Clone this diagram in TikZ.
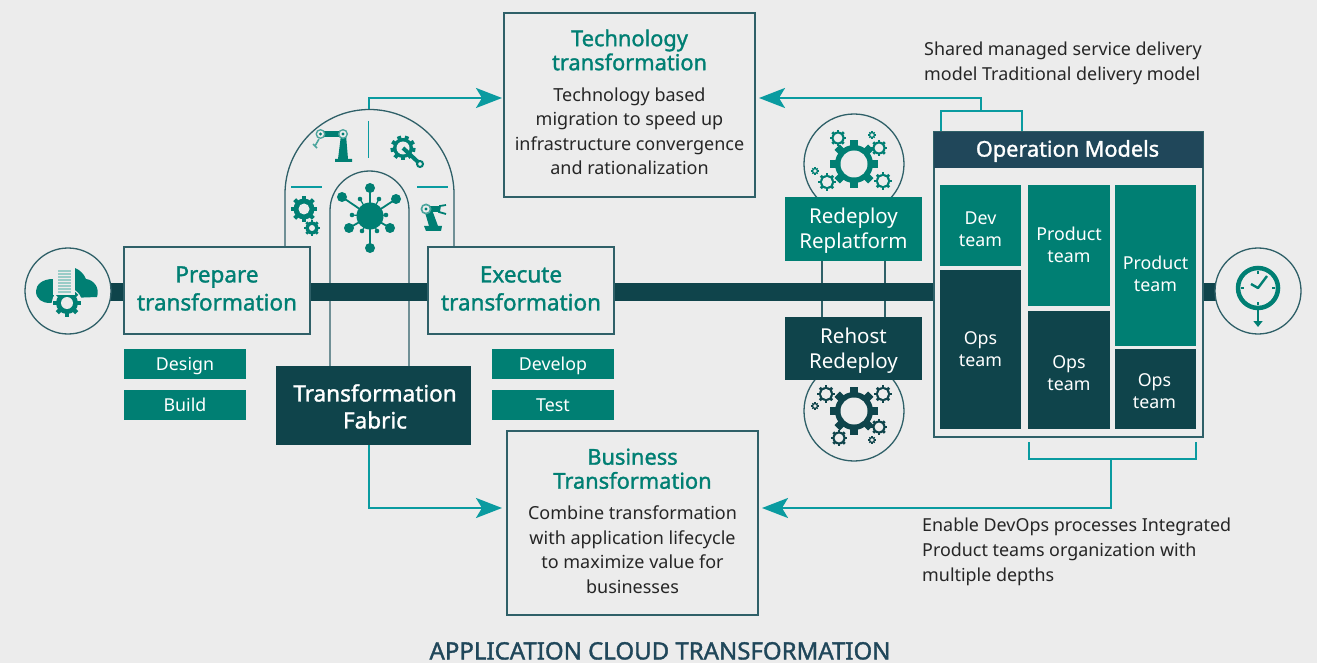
\documentclass[tikz,border=0pt]{standalone}
\usepackage{fontspec}
\setmainfont{Noto Sans}[BoldFont=Noto Sans, BoldFeatures={FakeBold=1.4}]
\usetikzlibrary{arrows.meta,positioning}
\definecolor{bg}{HTML}{ECECEC}
\definecolor{teal_t}{HTML}{007F73}
\definecolor{teal_l}{HTML}{0A9BA0}
\definecolor{dark_d}{HTML}{0F444B}
\definecolor{head_d}{HTML}{20475A}
\definecolor{line_d}{HTML}{2F6068}
\tikzset{
  x=1pt, y=-1pt,
  boxnode/.style = {align=center, inner sep=0pt, text centered},
  wh/.style 2 args = {minimum width=#1pt, minimum height=#2pt},
  box_w/.style = {boxnode, rectangle, fill=bg, draw=line_d, line width=1.2pt},
  box_t/.style = {boxnode, rectangle, fill=teal_t, text=white,
    font=\fontsize{17.8}{22}\selectfont},
  box_d/.style = {box_t, fill=dark_d},
  box_s/.style = {box_t, wh={122}{30}, text height=14pt, text depth=2pt},
  txt_p/.style = {boxnode, text=teal_t, font=\fontsize{22.5}{28}\selectfont\bfseries},
  txt_h/.style = {boxnode, text=teal_t, font=\fontsize{21.8}{24}\selectfont\bfseries},
  txt_b/.style = {boxnode, text=black!85, font=\fontsize{18}{24.5}\selectfont},
  txt_r/.style = {boxnode, text=white, font=\fontsize{20.5}{25}\selectfont},
  txt_f/.style = {boxnode, text=white, font=\fontsize{22.5}{27}\selectfont\bfseries},
  txt_c/.style = {boxnode, text=white, font=\fontsize{17.8}{22}\selectfont},
  txt_n/.style = {boxnode, anchor=west, align=left, text=black!85,
    font=\fontsize{17.9}{24.8}\selectfont},
  ring/.style = {circle, fill=bg, draw=line_d, line width=1.3pt, minimum size=#1pt, inner sep=0pt},
  arch/.style = {draw=line_d, line width=1.3pt},
  sep_l/.style = {draw=teal_l, line width=1.6pt},
  arrow_t/.style = {draw=teal_l, line width=2.4pt, -{Stealth[length=26pt,width=20pt,inset=6pt]}},
  bracket/.style = {draw=teal_l, line width=2.4pt}
}
% centre, body radius, hole radius, teeth, colour
\newcommand{\gearicon}[5]{%
  \begin{scope}[shift={(#1)}]
    \fill[#5] (0,0) circle (#2pt);
    \foreach \t in {1,...,#4}
      \fill[#5, rotate=\t*360/#4] (-0.2*#2,0) rectangle (0.2*#2,1.25*#2);
    \fill[bg] (0,0) circle (#3pt);
  \end{scope}}
% one big wheel, four small ones, two tiny ones
\newcommand{\wheelset}[8]{%
  \gearicon{#1}{19}{13.5}{8}{#2}
  \gearicon{#3}{6.5}{4.4}{8}{#2}
  \gearicon{#4}{6.5}{4.4}{8}{#2}
  \gearicon{#5}{7}{5}{8}{#2}
  \gearicon{#6}{7}{5}{8}{#2}
  \gearicon{#7}{3}{1.8}{8}{#2}
  \gearicon{#8}{3}{1.8}{8}{#2}}
\begin{document}
\begin{tikzpicture}
\useasboundingbox (0,0) rectangle (1317,663);
\fill[bg] (0,0) rectangle (1317,663);

% main line
\fill[dark_d] (108,283) rectangle (1217,301);

% arches
\draw[arch] (285,247) -- (285,194) arc[start angle=180, end angle=0, radius=84.5pt] -- (454,247);
\draw[arch] (330,366) -- (330,210.5) arc[start angle=180, end angle=0, radius=39.5pt] -- (409,366);
\fill[dark_d] (320,283) rectangle (420,301);
\draw[sep_l] (368.5,121) -- (368.5,158);
\draw[sep_l] (291,187) -- (322,187);
\draw[sep_l] (417,187) -- (448,187);

% links behind the two platform boxes
\draw[arch] (822,255) -- (822,283) (885,255) -- (885,283) (822,301) -- (822,325) (885,301) -- (885,325);

% end circles
\node[ring=86] (cloud_c) at (68,291) {};
\node[ring=86] (clock_c) at (1258,291) {};
\node[ring=100] (wheel_u) at (854,164) {};
\node[ring=100] (wheel_l) at (854,411) {};

% cloud icon
\fill[teal_t] (53,270) -- (53,279) .. controls (42,279) and (36,285) .. (36,291)
  .. controls (36,299) and (42,303) .. (50,303) -- (70,298) -- (97,297)
  .. controls (100,288) and (94,280) .. (86,279) .. controls (84,274) and (80,270) .. (75,268) -- cycle;
\fill[bg] (67,303) circle (15pt);
\gearicon{67,303}{11}{6}{8}{teal_t}
\fill[bg] (53,268) rectangle (75,295);
\foreach \s in {271,274,...,292}
  \draw[teal_t!40, line width=1.4pt] (58,\s) -- (71,\s);

% clock icon
\draw[teal_t, line width=4.5pt] (1258,288) circle (20pt);
\draw[teal_t, line width=2.4pt, line join=round] (1251,284) -- (1258,288) -- (1267,276);
\foreach \a/\b/\c/\d in {1258/271/1258/274, 1258/302/1258/305, 1241/288/1244/288, 1272/288/1275/288}
  \draw[teal_t, line width=1.6pt] (\a,\b) -- (\c,\d);
\draw[teal_t, line width=1.8pt, -{Stealth[length=6pt,width=9pt,inset=0pt]}] (1258,310) -- (1258,327);

% robot arm
\fill[teal_t] (335,159) rectangle (352,162) (338,159) -- (341,135) -- (346,135) -- (348,159) -- cycle;
\fill[teal_t] (321,131.5) rectangle (343,137);
\foreach \p in {{320.5,134},{343,134}} {
  \fill[teal_t!70] (\p) circle (5pt);
  \fill[bg] (\p) circle (3.4pt);
  \fill[teal_t] (\p) circle (1.6pt);
}
\draw[teal_t!70, line width=1.6pt] (319,139) -- (315,146) -- (317,148) (315,146) -- (313,144);

% wrench
\gearicon{403,148}{10}{6.5}{9}{teal_t}
\draw[teal_t, line width=4pt] (403,148) -- (418,162);
\draw[teal_t, line width=2pt, fill=bg] (420,164) circle (3pt);

% gears
\gearicon{304,209}{10.5}{5.5}{8}{teal_t}
\gearicon{312,228}{6.5}{3}{8}{teal_t}

% second robot
\fill[teal_t] (424,226) -- (442,226) -- (441,231) -- (426,231) -- cycle;
\fill[teal_t] (429,226) -- (424,209) -- (431,207) -- (438,226) -- cycle;
\fill[teal_t] (426,206) rectangle (440,212);
\fill[teal_t!70] (426,209) circle (5.5pt);
\fill[bg] (426,209) circle (3.6pt);
\fill[teal_t] (426,209) circle (1.6pt);
\draw[teal_t, line width=1.8pt] (446,205) -- (440,206) -- (439,212) -- (446,214);

% hub icon
\fill[teal_t] (370,216) circle (13.5pt);
\foreach \p in {{370,188},{342,197},{396,199},{349,228},{390,228},{370,248}} {
  \draw[teal_t, line width=1.8pt] (370,216) -- (\p);
  \fill[teal_t] (\p) circle (5pt);
}
\foreach \p in {{360,199},{379,199},{352,215},{386,215},{362,231},{377,231}} {
  \draw[teal_t, line width=1.2pt] (370,216) -- (\p);
  \fill[teal_t] (\p) circle (2.3pt);
}

% wheels
\wheelset{854,164}{teal_t}{838,138}{879,148}{883,181}{827,182}{872,135}{815,171}
\wheelset{854,411}{dark_d}{839,438}{879,427}{883,394}{826,394}{872,440}{815,406}

% boxes on the line
\node[box_w, wh={186}{87}] (prepare) at (217,290.5) {};
\node[txt_p] (prepare_t) at (217,288.5) {Prepare\\transformation};
\node[box_w, wh={186}{87}] (execute) at (521,290.5) {};
\node[txt_p] (execute_t) at (521,288.5) {Execute\\transformation};
\node[box_s] (design) at (185,364) {Design};
\node[box_s] (build) at (185,405) {Build};
\node[box_s] (develop) at (553,364) {Develop};
\node[box_s] (test) at (553,405) {Test};
\node[box_d, wh={195}{79}] (fabric) at (373.5,405.5) {};
\node[txt_f] (fabric_t) at (375,406.5) {Transformation\\Fabric};
\node[box_t, wh={137}{64}] (redeploy) at (853.5,229) {};
\node[txt_r] (redeploy_t) at (853.5,230.5) {Redeploy\\Replatform};
\node[box_d, wh={137}{63}] (rehost) at (853.5,348.5) {};
\node[txt_r] (rehost_t) at (853.5,350.5) {Rehost\\Redeploy};

% text boxes
\node[box_w, wh={251}{184}] (tech) at (629.5,105) {};
\node[txt_h, below=17pt of tech.north] (tech_h) {Technology\\transformation};
\node[txt_b] (tech_t) at (629.5,131.5) {Technology based\\migration to speed up\\infrastructure convergence\\and rationalization};
\node[box_w, wh={251}{184}] (business) at (632.5,523) {};
\node[txt_h, below=18pt of business.north] (business_h) {Business\\Transformation};
\node[txt_b] (business_t) at (632.5,549.5) {Combine transformation\\with application lifecycle\\to maximize value for\\businesses};

% operation models
\node[box_w, wh={269}{305}] (models) at (1068.5,284.5) {};
\node[box_t, fill=head_d, wh={269}{36}] (models_head) at (1068.5,150) {};
\node[boxnode, text=white, font=\fontsize{21.7}{24}\selectfont\bfseries] (models_t) at (1067.5,151) {Operation Models};
\node[box_t, wh={81}{81}] (dev) at (980.5,225.5) {};
\node[txt_c] (dev_t) at (980.5,229) {Dev\\team};
\node[box_d, wh={81}{159}] (ops_a) at (980.5,349.5) {Ops\\team};
\node[box_t, wh={82}{121}] (prod_b) at (1069,245.5) {};
\node[txt_c] (prod_b_t) at (1069,244.5) {Product\\team};
\node[box_d, wh={82}{118}] (ops_b) at (1069,370) {};
\node[txt_c] (ops_b_t) at (1069,373) {Ops\\team};
\node[box_t, wh={81}{161}] (prod_c) at (1155.5,265.5) {};
\node[txt_c] (prod_c_t) at (1155.5,274) {Product\\team};
\node[box_d, wh={81}{80}] (ops_c) at (1155.5,389) {};
\node[txt_c] (ops_c_t) at (1154.5,391) {Ops\\team};

% connectors
\coordinate (arch_top) at (369,109);
\coordinate (tech_in) at (502,98);
\coordinate (tech_r) at (759,98);
\coordinate (brk_top) at (981,111);
\coordinate (fabric_out) at (369,445);
\coordinate (biz_in) at (502,508);
\coordinate (biz_r) at (762,508);
\coordinate (brk_low) at (1111,459);
\draw[arrow_t] (arch_top) |- (tech_in);
\draw[arrow_t] (brk_top) |- (tech_r);
\draw[arrow_t] (fabric_out) |- (biz_in);
\draw[arrow_t] (brk_low) |- (biz_r);
\draw[bracket] (941,131) |- (1022,111) -- (1022,131);
\draw[bracket] (1029,442) |- (1196,459) -- (1196,442);

% free text
\node[txt_n] (shared) at (924,63.5) {Shared managed service delivery\\model Traditional delivery model};
\node[txt_n] (enable) at (922,552) {Enable DevOps processes Integrated\\Product teams organization with\\multiple depths};
\node[boxnode, anchor=base, text=head_d, font=\fontsize{24}{26}\selectfont\bfseries] (title) at (660,659.5) {APPLICATION CLOUD TRANSFORMATION};
\end{tikzpicture}
\end{document}
